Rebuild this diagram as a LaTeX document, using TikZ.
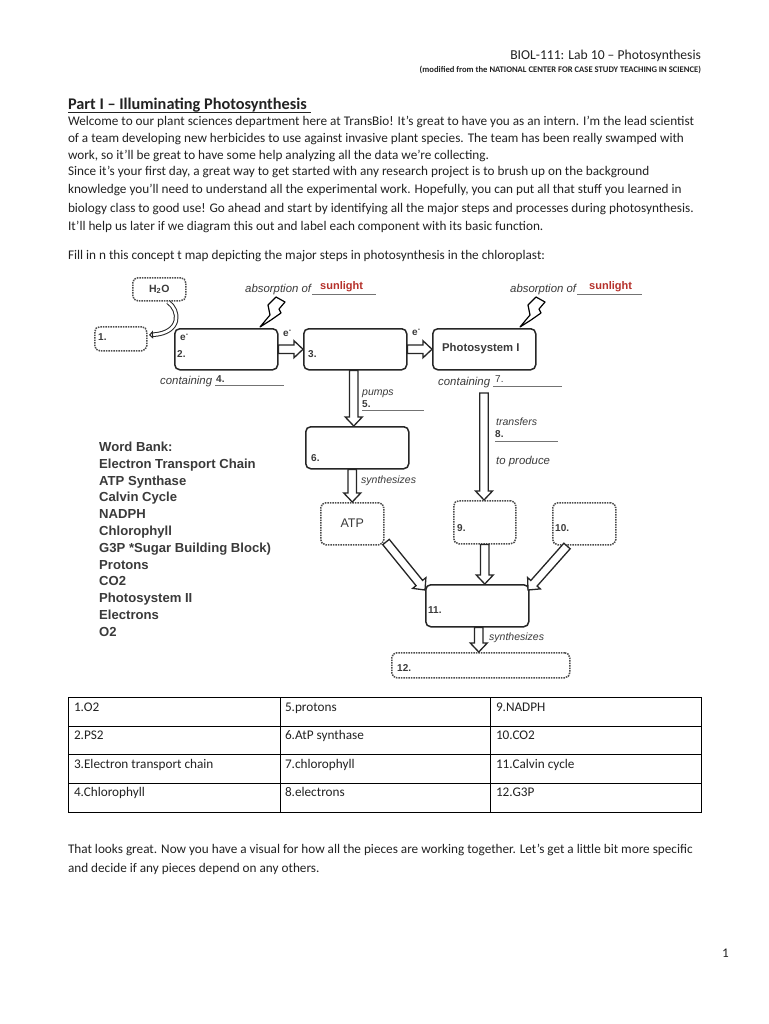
\documentclass[tikz,border=0pt]{standalone}
\usepackage{fontspec}
\setmainfont{Carlito}
\newfontfamily\arialf{Liberation Sans}
\usetikzlibrary{arrows.meta,calc}
\definecolor{ink}{HTML}{222222}
\definecolor{diag}{HTML}{3A3A3A}
\definecolor{sun}{HTML}{B5302A}
\tikzset{
  x=1pt,y=-1pt,
  body/.style={anchor=base west,inner sep=0pt,outer sep=0pt,text=ink,font=\fontsize{13.22}{16}\selectfont},
  solidbox/.style={draw=black!85,line width=1.5pt,rounded corners=5pt,fill=white},
  dotbox/.style={draw=black!70,line width=1.5pt,dash pattern=on 1.5pt off 1pt,rounded corners=5pt,fill=white},
  blockline/.style={draw=black!85,line width=1.3pt,fill=white,line join=miter},
  difflabel/.style={anchor=base west,inner sep=0pt,text=diag},
  ital/.style={difflabel,font=\arialf\itshape\fontsize{10.5}{12}\selectfont},
  italw/.style={difflabel,font=\arialf\itshape\fontsize{11.4}{13}\selectfont},
  num/.style={difflabel,font=\arialf\bfseries\fontsize{10}{12}\selectfont},
  bank/.style={difflabel,font=\arialf\bfseries\fontsize{13.1}{15}\selectfont},
  sunw/.style={anchor=base west,inner sep=0pt,text=sun,font=\arialf\bfseries\fontsize{11}{12}\selectfont},
  rule/.style={draw=black!55,line width=0.8pt},
  cell/.style={body},
  grid/.style={draw=black,line width=0.7pt},
  bolt/.style={draw=black,line width=1.2pt,fill=white,line join=round},
}
\newcommand{\boxat}[6]{\node[#1,minimum width=#4pt,minimum height=#5pt,inner sep=0pt,anchor=north west] (#2) at #3 {#6};}
\newcommand{\boltat}[1]{\draw[bolt,shift={#1}] (0,0) -- (10,-12) -- (8,-22) -- (16,-30) -- (25,-25) -- (19,-18) -- (21,-14) -- (11,-7) -- cycle;}
% block arrow from named point #1 to named point #2
\newcommand{\barrow}[2]{%
  \coordinate (hb) at ($(#2)!9pt!(#1)$);
  \draw[blockline] ($(#1)!4.2pt!90:(#2)$) -- ($(hb)!4.2pt!90:(#2)$) -- ($(hb)!8.5pt!90:(#2)$) -- (#2)
    -- ($(hb)!8.5pt!-90:(#2)$) -- ($(hb)!4.2pt!-90:(#2)$) -- ($(#1)!4.2pt!-90:(#2)$) -- cycle;}
\begin{document}
\begin{tikzpicture}
\useasboundingbox (0,0) rectangle (768,1024);
\fill[white] (0,0) rectangle (768,1024);

% header
\node[body,anchor=base east,font=\fontsize{13.6}{16}\selectfont] (hdr1) at (701,60) {BIOL-111: Lab 10 – Photosynthesis};
\node[body,anchor=base east,font=\bfseries\fontsize{8.6}{10}\selectfont] (hdr2) at (701,73) {(modified from the NATIONAL CENTER FOR CASE STUDY TEACHING IN SCIENCE)};
\node[body,font=\bfseries\fontsize{16.3}{18}\selectfont] (part) at (68,110) {Part I – Illuminating Photosynthesis };
\draw[draw=ink,line width=0.9pt] (part.base west)++(0,2) -- (311,112);

% paragraph
\node[body] (p1) at (68,126) {Welcome to our plant sciences department here at TransBio! It’s great to have you as an intern. I’m the lead scientist};
\node[body] (p2) at (68,143) {of a team developing new herbicides to use against invasive plant species. The team has been really swamped with};
\node[body] (p3) at (68,160) {work, so it’ll be great to have some help analyzing all the data we’re collecting.};
\node[body] (p4) at (68,176) {Since it’s your first day, a great way to get started with any research project is to brush up on the background};
\node[body] (p5) at (68,194) {knowledge you’ll need to understand all the experimental work. Hopefully, you can put all that stuff you learned in};
\node[body] (p6) at (68,213) {biology class to good use! Go ahead and start by identifying all the major steps and processes during photosynthesis.};
\node[body] (p7) at (68,230) {It’ll help us later if we diagram this out and label each component with its basic function.};
\node[body] (p8) at (68,259) {Fill in n this concept t map depicting the major steps in photosynthesis in the chloroplast:};

% boxes
\boxat{dotbox}{h2o}{(132,277)}{53}{23}{\arialf\bfseries\fontsize{10.5}{12}\selectfont\color{diag}H\textsubscript{2}O}
\boxat{dotbox}{b1}{(94,326)}{52}{24}{}
\boxat{solidbox}{b2}{(174,328)}{103}{41}{}
\boxat{solidbox}{b3}{(303,328)}{103}{41}{}
\boxat{solidbox}{ps1}{(432,328)}{103}{41}{}
\boxat{solidbox}{b6}{(305,426)}{103}{42}{}
\boxat{dotbox}{atp}{(320,502)}{63}{42}{\raisebox{2pt}{\arialf\fontsize{12.5}{14}\selectfont\color{diag}ATP}}
\boxat{dotbox}{b9}{(453,500)}{62}{43}{}
\boxat{dotbox}{b10}{(552,502)}{63}{42}{}
\boxat{solidbox}{b11}{(425,584)}{103}{42}{}
\boxat{dotbox}{b12}{(391,652)}{178}{25}{}

% connector ends
\coordinate (psstart) at (484,393);
\coordinate (psend) at (psstart |- b9.north);
\coordinate (atpstart) at (386,542);
\coordinate (tenstart) at (567,546);
\coordinate (b11l) at (425,590);
\coordinate (b11r) at (528,590);
\coordinate (b1end) at (149,335);
\coordinate (b3out) at ([xshift=-1.5pt]b3.south);
\coordinate (b6in) at (b3out |- b6.north);
\coordinate (b6out) at (atp.north |- b6.south);
\coordinate (nineout) at (b9.south);
\coordinate (elevenin) at (nineout |- b11.north);
\coordinate (b11out) at ([xshift=1.5pt]b11.south);
\coordinate (twelvein) at (b11out |- b12.north);

% connectors
\barrow{b2.east}{b3.west}
\barrow{b3.east}{ps1.west}
\barrow{b3out}{b6in}
\barrow{psstart}{psend}
\barrow{b6out}{atp.north}
\barrow{atpstart}{b11l}
\barrow{tenstart}{b11r}
\barrow{nineout}{elevenin}
\barrow{b11out}{twelvein}
\draw[draw=black!85,line width=1pt,double=white,double distance=2.6pt,-{Triangle[open,fill=white,length=4pt,width=8pt]}]
  (168,302) .. controls (180,310) and (182,333) .. (b1end);

% bolts
\boltat{(260,327)}
\boltat{(520,327)}

% diagram labels
\node[italw] (abs1) at (245,292) {absorption of};
\draw[rule] (312,294) -- (376,294);
\node[sunw] (sun1) at (320,289) {sunlight};
\node[italw] (abs2) at (510,292) {absorption of};
\draw[rule] (577,294) -- (642,294);
\node[sunw] (sun2) at (589,289) {sunlight};
\node[italw] (cont1) at (160,384) {containing};
\node[num] (n4) at (216,382) {4.};
\draw[rule] (215,385) -- (284,385);
\node[italw] (cont2) at (438,385) {containing};
\node[num,font=\arialf\fontsize{10}{12}\selectfont] (n7) at (495,382) {7.};
\draw[rule] (493,386) -- (562,386);
\node[ital] (pumps) at (362,395) {pumps};
\node[num] (n5) at (362,407) {5.};
\draw[rule] (362,410) -- (424,410);
\node[ital] (trans) at (496,425) {transfers};
\node[num] (n8) at (495,437) {8.};
\draw[rule] (495,441) -- (558,441);
\node[italw] (prod) at (496,464) {to produce};
\node[ital] (syn1) at (361,483) {synthesizes};
\node[ital] (syn2) at (489,640) {synthesizes};
\node[num] (eA) at (180,340) {e\textsuperscript{-}};
\node[num] (n2) at (177,357) {2.};
\node[num] (eB) at (283,336) {e\textsuperscript{-}};
\node[num] (n3) at (308,357) {3.};
\node[num] (eC) at (412,335) {e\textsuperscript{-}};
\node[num,font=\arialf\bfseries\fontsize{11.3}{13}\selectfont] (pstxt) at (442,351) {Photosystem I};
\node[num] (n1) at (98,340) {1.};
\node[num] (n6) at (311,461) {6.};
\node[num] (n9) at (457,531) {9.};
\node[num] (n10) at (555,531) {10.};
\node[num] (n11) at (428,613) {11.};
\node[num] (n12) at (397,671) {12.};

% word bank
\node[bank] (w0) at (99,451) {Word Bank:};
\node[bank] (w1) at (99,468) {Electron Transport Chain};
\node[bank] (w2) at (99,485) {ATP Synthase};
\node[bank] (w3) at (99,501) {Calvin Cycle};
\node[bank] (w4) at (99,518) {NADPH};
\node[bank] (w5) at (99,535) {Chlorophyll};
\node[bank] (w6) at (99,552) {G3P *Sugar Building Block)};
\node[bank] (w7) at (99,569) {Protons};
\node[bank] (w8) at (99,585) {CO2};
\node[bank] (w9) at (99,602) {Photosystem II};
\node[bank] (w10) at (99,619) {Electrons};
\node[bank] (w11) at (99,636) {O2};

% table
\draw[grid] (68,697) rectangle (701,812);
\draw[grid] (68,726) -- (701,726);
\draw[grid] (68,754) -- (701,754);
\draw[grid] (68,783) -- (701,783);
\draw[grid] (280,697) -- (280,812);
\draw[grid] (490,697) -- (490,812);
\node[cell] (c11) at (74,711) {1.O2};
\node[cell] (c12) at (285,711) {5.protons};
\node[cell] (c13) at (496,711) {9.NADPH};
\node[cell] (c21) at (74,739) {2.PS2};
\node[cell] (c22) at (285,739) {6.AtP synthase};
\node[cell] (c23) at (496,739) {10.CO2};
\node[cell] (c31) at (74,768) {3.Electron transport chain};
\node[cell] (c32) at (285,768) {7.chlorophyll};
\node[cell] (c33) at (496,768) {11.Calvin cycle};
\node[cell] (c41) at (74,796) {4.Chlorophyll};
\node[cell] (c42) at (285,796) {8.electrons};
\node[cell] (c43) at (496,796) {12.G3P};

% closing
\node[body] (e1) at (68,853) {That looks great. Now you have a visual for how all the pieces are working together. Let’s get a little bit more specific};
\node[body] (e2) at (68,872) {and decide if any pieces depend on any others.};
\node[body] (pg) at (722,957) {1};
\end{tikzpicture}
\end{document}
